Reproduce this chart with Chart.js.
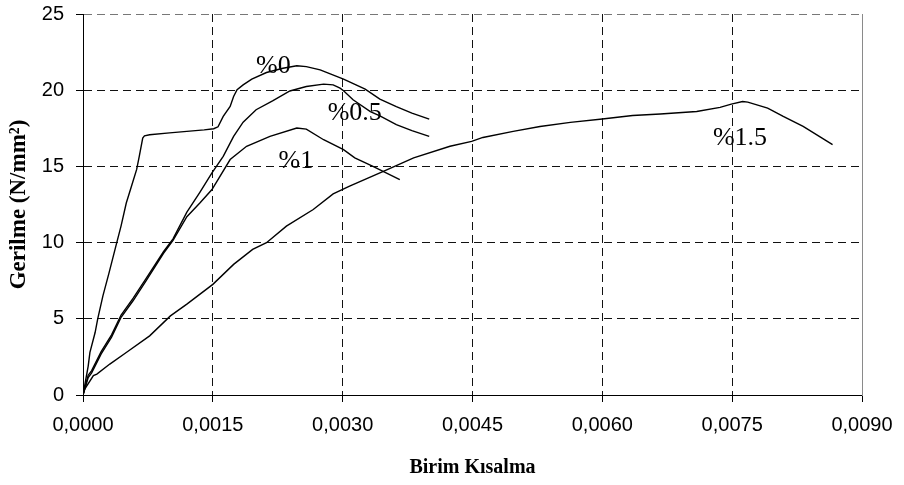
<!DOCTYPE html>
<html>
<head>
<meta charset="utf-8">
<script src="https://cdn.jsdelivr.net/npm/chart.js@4/dist/chart.umd.min.js"></script>
<style>
  html, body { margin: 0; padding: 0; background: #fff; }
  #wrap { width: 904px; height: 485px; }
</style>
</head>
<body>
<div id="wrap"><canvas id="c" width="904" height="485"></canvas></div>
<script>
// Stress–strain curves (strain, stress in N/mm²) for each fibre ratio
const strain0  = [0, 0.00006, 0.00008, 0.00014, 0.00017, 0.00023, 0.00030, 0.00039, 0.00044, 0.00050, 0.00056, 0.00062, 0.00065, 0.00069, 0.00071, 0.00077, 0.00100, 0.00120, 0.00140, 0.00151, 0.00156, 0.00162, 0.00170, 0.00174, 0.00178, 0.00185, 0.00195, 0.00212, 0.00231, 0.00247, 0.00258, 0.00274, 0.00301, 0.00326, 0.00343, 0.00362, 0.00380, 0.00400];
const stress0  = [0, 1.9, 2.8, 4.1, 5.0, 6.5, 8.0, 10.0, 11.1, 12.6, 13.7, 14.8, 15.66, 16.86, 17.0, 17.08, 17.2, 17.3, 17.4, 17.47, 17.6, 18.28, 18.93, 19.59, 20.03, 20.35, 20.73, 21.16, 21.44, 21.6, 21.55, 21.33, 20.73, 20.07, 19.42, 18.92, 18.5, 18.1];

const strain05 = [0, 0.00006, 0.00010, 0.00021, 0.00033, 0.00044, 0.00058, 0.00073, 0.00093, 0.00104, 0.00120, 0.00135, 0.00149, 0.00162, 0.00174, 0.00185, 0.00200, 0.00219, 0.00239, 0.00258, 0.00278, 0.00289, 0.00297, 0.00301, 0.00312, 0.00332, 0.00343, 0.00362, 0.00380, 0.00400];
const stress05 = [0, 1.3, 1.6, 2.85, 3.95, 5.25, 6.35, 7.65, 9.4, 10.25, 12.0, 13.3, 14.57, 15.66, 16.97, 17.9, 18.72, 19.3, 19.95, 20.24, 20.4, 20.35, 20.13, 19.96, 19.37, 18.6, 18.32, 17.74, 17.35, 16.97];

const strain1  = [0, 0.00006, 0.00010, 0.00021, 0.00033, 0.00044, 0.00058, 0.00073, 0.00093, 0.00104, 0.00120, 0.00135, 0.00149, 0.00170, 0.00189, 0.00216, 0.00247, 0.00258, 0.00278, 0.00301, 0.00314, 0.00335, 0.00366];
const stress1  = [0, 1.15, 1.45, 2.7, 3.8, 5.1, 6.2, 7.5, 9.3, 10.15, 11.7, 12.6, 13.48, 15.45, 16.32, 16.97, 17.52, 17.45, 16.75, 16.1, 15.56, 15.0, 14.14];

const strain15 = [0, 0.00002, 0.00012, 0.00016, 0.00031, 0.00050, 0.00077, 0.00101, 0.00120, 0.00150, 0.00174, 0.00196, 0.00212, 0.00235, 0.00266, 0.00289, 0.00308, 0.00347, 0.00382, 0.00424, 0.00449, 0.00462, 0.00497, 0.00528, 0.00563, 0.00600, 0.00635, 0.00667, 0.00709, 0.00736, 0.00749, 0.00762, 0.00768, 0.00791, 0.00809, 0.00832, 0.00866];
const stress15 = [0, 0.39, 1.27, 1.37, 2.03, 2.79, 3.88, 5.19, 5.96, 7.26, 8.57, 9.55, 9.99, 11.08, 12.17, 13.2, 13.7, 14.68, 15.56, 16.32, 16.64, 16.9, 17.3, 17.62, 17.89, 18.11, 18.34, 18.44, 18.6, 18.87, 19.09, 19.26, 19.22, 18.83, 18.28, 17.62, 16.43];

const seriesNames = ['%0', '%0.5', '%1', '%1.5'];

// Axis ticks and their printed labels
const xTicks = [0, 0.0015, 0.0030, 0.0045, 0.0060, 0.0075, 0.0090];
const xTickLabels = ['0,0000', '0,0015', '0,0030', '0,0045', '0,0060', '0,0075', '0,0090'];
const yTicks = [0, 5, 10, 15, 20, 25];
const yTickLabels = ['0', '5', '10', '15', '20', '25'];

// Curve name tags: centre strain and baseline stress, in data units
const tagX = [0.00220, 0.00314, 0.00246, 0.00759];
const tagY = [21.13, 18.04, 14.9, 16.4];

function pairs(xs, ys) { return xs.map((x, i) => ({ x: x, y: ys[i] })); }

const curves = [pairs(strain0, stress0), pairs(strain05, stress05), pairs(strain1, stress1), pairs(strain15, stress15)];

const tagPlugin = {
  id: 'curveTags',
  beforeDatasetsDraw(chart) {
    // solid frame edge on the right of the plot
    const { ctx, chartArea } = chart;
    ctx.save();
    ctx.strokeStyle = '#8a8a8a';
    ctx.lineWidth = 1;
    ctx.beginPath();
    ctx.moveTo(chartArea.right + 0.5, chartArea.top);
    ctx.lineTo(chartArea.right + 0.5, chartArea.bottom + 1);
    ctx.stroke();
    ctx.restore();
  },
  afterDatasetsDraw(chart) {
    const { ctx, scales } = chart;
    ctx.save();
    ctx.fillStyle = '#000';
    ctx.font = "26px 'Liberation Serif', 'Times New Roman', serif";
    ctx.textAlign = 'center';
    ctx.textBaseline = 'alphabetic';
    seriesNames.forEach((name, i) => {
      ctx.fillText(name, scales.x.getPixelForValue(tagX[i]), scales.y.getPixelForValue(tagY[i]));
    });
    ctx.restore();
  }
};

const tickFont = { family: "'Liberation Sans', Arial, sans-serif", size: 20 };
const xTitleFont = { family: "'Liberation Serif', 'Times New Roman', serif", size: 20, weight: 'bold' };
const yTitleFont = { family: "'Liberation Serif', 'Times New Roman', serif", size: 23, weight: 'bold' };

new Chart(document.getElementById('c'), {
  type: 'scatter',
  data: {
    datasets: curves.map((pts, i) => ({
      label: seriesNames[i],
      data: pts,
      showLine: true,
      borderColor: '#000',
      backgroundColor: '#000',
      borderWidth: 1.4,
      pointRadius: 0,
      pointHoverRadius: 0,
      tension: 0
    }))
  },
  options: {
    responsive: false,
    animation: false,
    events: [],
    layout: { padding: { left: 0, right: 42, top: 14, bottom: 0 } },
    plugins: { legend: { display: false }, tooltip: { enabled: false } },
    scales: {
      x: {
        type: 'linear',
        min: 0,
        max: 0.009,
        afterBuildTicks: (s) => { s.ticks = xTicks.map(v => ({ value: v })); },
        afterFit: (s) => { s.height = 90; s.paddingLeft = 0; s.paddingRight = 0; },
        ticks: {
          color: '#000',
          font: tickFont,
          padding: 11,
          maxRotation: 0,
          autoSkip: false,
          callback: (v, i) => xTickLabels[i]
        },
        grid: {
          color: (c) => (c.index === xTicks.length - 1 ? 'rgba(0,0,0,0)' : '#111'),
          tickColor: '#000',
          tickLength: 7,
          lineWidth: 1
        },
        border: { display: true, color: '#000', width: 1, dash: [8, 5] },
        title: { display: true, text: 'Birim Kısalma', color: '#000', font: xTitleFont, padding: { top: 4, bottom: 5 } }
      },
      y: {
        type: 'linear',
        min: 0,
        max: 25,
        afterBuildTicks: (s) => { s.ticks = yTicks.map(v => ({ value: v })); },
        afterFit: (s) => { s.width = 83; s.paddingTop = 0; s.paddingBottom = 0; },
        ticks: {
          color: '#000',
          font: tickFont,
          padding: 12,
          autoSkip: false,
          callback: (v, i) => yTickLabels[i]
        },
        grid: {
          color: (c) => (c.index === yTicks.length - 1 ? '#777' : '#111'),
          tickColor: '#000',
          tickLength: 7,
          lineWidth: 1
        },
        border: { display: true, color: '#000', width: 1, dash: [8, 5] },
        title: { display: true, text: 'Gerilme (N/mm²)', color: '#000', font: yTitleFont, padding: { top: 5, bottom: 4 } }
      }
    }
  },
  plugins: [tagPlugin]
});
</script>
</body>
</html>
